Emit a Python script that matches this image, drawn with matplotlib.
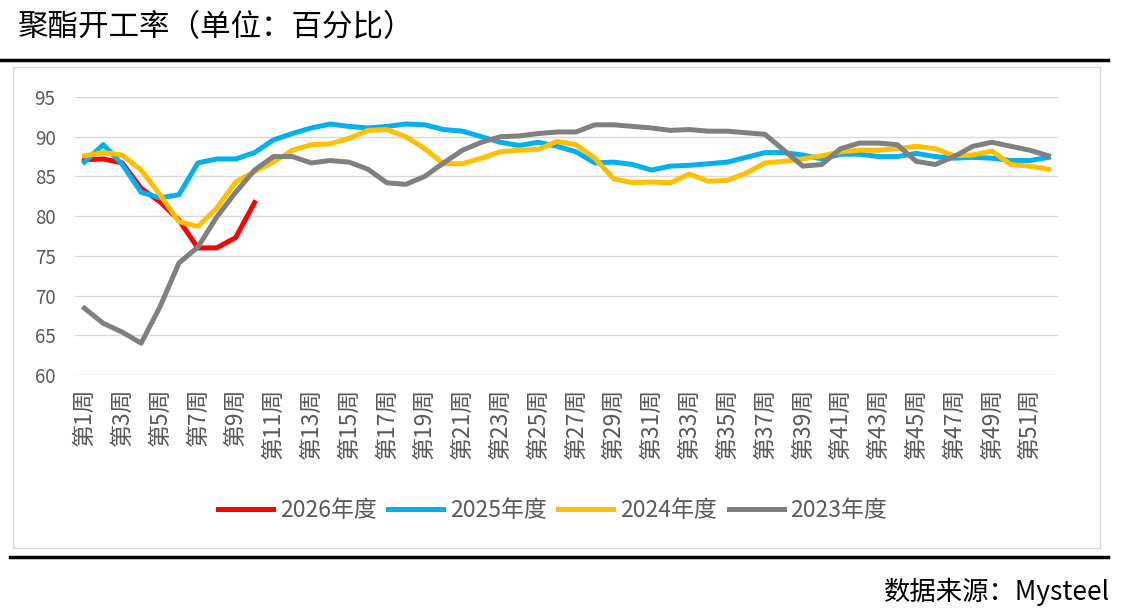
import matplotlib
matplotlib.use("Agg")
import matplotlib.pyplot as plt
from matplotlib.lines import Line2D
from matplotlib.patches import Rectangle

plt.rcParams['font.family'] = ['Noto Sans CJK SC', 'DejaVu Sans']

weeks = list(range(1, 53))
week_labels = ["第{}周".format(w) for w in weeks]

y2026 = [87.1, 87.2, 86.7, 83.5, 81.8, 79.5, 76.0, 76.0, 77.3, 81.7]

y2025 = [86.8, 89.0, 86.5, 83.0, 82.3, 82.7, 86.7, 87.2, 87.2, 88.0,
         89.6, 90.4, 91.1, 91.6, 91.3, 91.1, 91.3, 91.6, 91.5, 90.9,
         90.7, 90.0, 89.3, 88.9, 89.3, 88.8, 88.1, 86.7, 86.8, 86.5,
         85.8, 86.3, 86.4, 86.6, 86.8, 87.4, 88.0, 88.0, 87.7, 87.2,
         87.8, 87.8, 87.5, 87.5, 87.9, 87.5, 87.3, 87.4, 87.3, 87.0,
         87.0, 87.4]

y2024 = [87.6, 88.0, 87.7, 85.8, 82.7, 79.3, 78.7, 81.0, 84.3, 85.6,
         86.8, 88.3, 89.0, 89.1, 89.8, 90.8, 90.9, 90.0, 88.5, 86.6,
         86.6, 87.3, 88.1, 88.3, 88.4, 89.4, 89.0, 87.3, 84.7, 84.2,
         84.3, 84.2, 85.3, 84.4, 84.5, 85.4, 86.7, 86.9, 87.2, 87.6,
         88.1, 88.3, 88.3, 88.5, 88.8, 88.5, 87.6, 87.7, 88.2, 86.5,
         86.3, 85.9]

y2023 = [68.4, 66.5, 65.4, 64.0, 68.6, 74.1, 76.1, 79.9, 83.0, 85.8,
         87.5, 87.5, 86.7, 87.0, 86.8, 85.9, 84.2, 84.0, 85.0, 86.7,
         88.3, 89.3, 90.0, 90.1, 90.4, 90.6, 90.6, 91.5, 91.5, 91.3,
         91.1, 90.8, 90.9, 90.7, 90.7, 90.5, 90.3, 88.3, 86.3, 86.5,
         88.5, 89.2, 89.2, 89.0, 86.9, 86.5, 87.5, 88.8, 89.3, 88.8,
         88.3, 87.6]

fig = plt.figure(figsize=(11.24, 6.14), dpi=100)
ax = fig.add_axes([0.0667, 0.3893, 0.8746, 0.4527])

lw = 3.6
ax.plot(weeks[:len(y2026)], y2026, color="#FF0000", lw=lw, label="2026年度")
ax.plot(weeks, y2025, color="#00B0F0", lw=lw, label="2025年度")
ax.plot(weeks, y2024, color="#FFC000", lw=lw, label="2024年度")
ax.plot(weeks, y2023, color="#808080", lw=lw, label="2023年度")

ax.set_ylim(60, 95)
ax.set_xlim(0.5, 52.5)
ax.set_yticks(range(60, 96, 5))
ax.set_xticks(weeks[::2])
ax.set_xticklabels(week_labels[::2], rotation=90, fontsize=16.5, color="#595959")
ax.tick_params(axis="y", labelsize=13.5, labelcolor="#595959", length=0, pad=14)
ax.tick_params(axis="x", length=0, pad=9)
ax.grid(axis="y", color="#D9D9D9", lw=1)
ax.set_axisbelow(True)
for s in ax.spines.values():
    s.set_visible(False)

ax.legend(loc="center", bbox_to_anchor=(0.486, -0.486), ncol=4, frameon=False,
          fontsize=16.5, labelcolor="#595959", handlelength=2.4, columnspacing=0.5,
          handletextpad=0.3)

# frame and rules
fig.add_artist(Rectangle((13 / 1124, 1 - 548 / 614), (1100 - 13) / 1124, (548 - 67) / 614,
                         transform=fig.transFigure, fill=False, ec="#D9D9D9", lw=1))
fig.add_artist(Line2D([0, 1108 / 1124], [1 - 60 / 614] * 2, color="black", lw=2.5))
fig.add_artist(Line2D([10 / 1124, 1108 / 1124], [1 - 557 / 614] * 2, color="black", lw=2.5))

fig.text(18 / 1124, 1 - 28 / 614, "聚酯开工率（单位：百分比）", fontsize=22, va="center", ha="left")
fig.text(1110 / 1124, 1 - 592 / 614, "数据来源：Mysteel", fontsize=19, va="center", ha="right")

fig.savefig("out.png", dpi=100)
